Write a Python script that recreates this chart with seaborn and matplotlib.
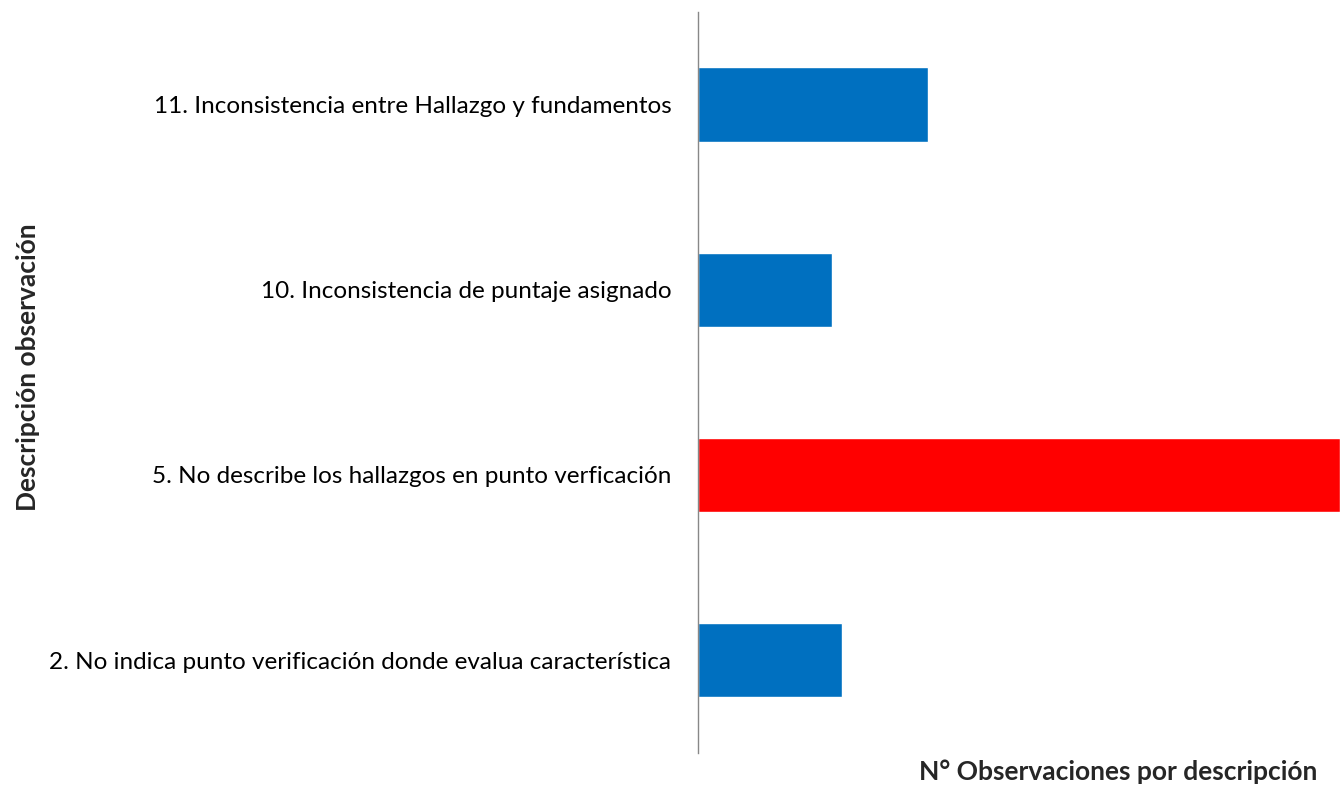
import matplotlib
matplotlib.use('Agg')
import matplotlib.pyplot as plt
import seaborn as sns
import pandas as pd

# Datos
categorias = ['11. Inconsistencia entre Hallazgo y fundamentos',
              '10. Inconsistencia de puntaje asignado',
              '5. No describe los hallazgos en punto verficación',
              '2. No indica punto verificación donde evalua característica']
valores = [24, 14, 67, 15]
colores = ['#0070C0', '#0070C0', '#FF0000', '#0070C0']

df = pd.DataFrame({'desc': categorias, 'n': valores})

sns.set_style('white')
plt.rcParams['font.family'] = ['Lato', 'DejaVu Sans']

fig = plt.figure(figsize=(13.42, 7.9), dpi=100)
ax = fig.add_axes([0.52, 0.047, 0.4785, 0.938])

sns.barplot(data=df, x='n', y='desc', hue='desc', palette=colores,
            orient='h', width=0.4, legend=False, saturation=1, ax=ax)

ax.set_xlim(0, 67)
ax.set_xticks([])
ax.tick_params(axis='y', length=0, labelsize=17.5, pad=19, colors='#000000')
for s in ['top', 'right', 'bottom']:
    ax.spines[s].set_visible(False)
ax.spines['left'].set_color('#888888')
ax.spines['left'].set_linewidth(1)

ax.set_ylabel('')
ax.set_xlabel('')
fig.text(0.982, 0.008, 'N° Observaciones por descripción', ha='right', va='bottom',
         fontsize=19, fontweight='bold')
fig.text(0.021, 0.535, 'Descripción observación', ha='center', va='center',
         rotation=90, fontsize=19, fontweight='bold')

fig.savefig('out.png', dpi=100)
